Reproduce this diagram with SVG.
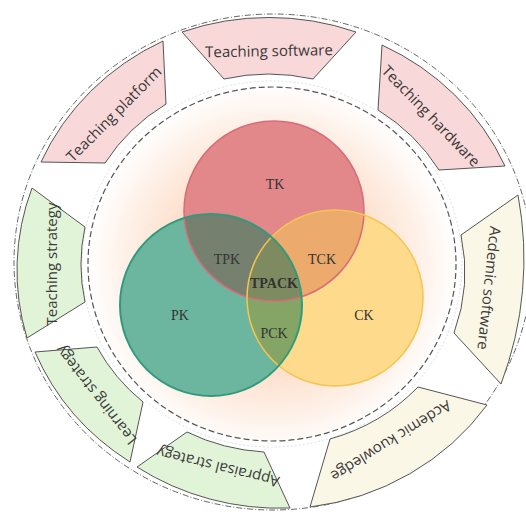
<svg xmlns="http://www.w3.org/2000/svg" width="526" height="512" viewBox="0 0 526 512">
<defs>
<radialGradient id="glow" cx="272" cy="268" r="184" gradientUnits="userSpaceOnUse">
<stop offset="0" stop-color="#fbc6a2"/>
<stop offset="0.5" stop-color="#fddcc6"/>
<stop offset="0.8" stop-color="#fef0e7"/>
<stop offset="1" stop-color="#ffffff"/>
</radialGradient>
<circle id="cT" cx="274" cy="211" r="90"/>
<circle id="cP" cx="211" cy="305" r="91"/>
<circle id="cC" cx="335" cy="298" r="88"/>
<clipPath id="clipT"><use href="#cT"/></clipPath>
<clipPath id="clipP"><use href="#cP"/></clipPath>
</defs>
<style>
.seg{stroke:#555;stroke-width:1}
.pink{fill:#f9d8d9}
.cream{fill:#faf7e7}
.green{fill:#e2f4d8}
.lbl{font-family:"Open Sans","DejaVu Sans",sans-serif;font-size:15px;fill:#3a3a3a;text-anchor:middle}
.v{font-family:"Liberation Serif","Times New Roman",serif;font-size:14px;fill:#333;text-anchor:middle}
</style>
<rect width="526" height="512" fill="#ffffff"/>
<g id="rings">
<ellipse cx="273" cy="262" rx="259" ry="248" fill="none" stroke="#666" stroke-width="1" stroke-dasharray="6 2 1 2"/>
<ellipse cx="272" cy="264" rx="184" ry="177" fill="url(#glow)"/>
<ellipse cx="272" cy="264" rx="190" ry="183" fill="none" stroke="#d6d6d6" stroke-width="0.8" stroke-dasharray="2 2"/>
<ellipse cx="272" cy="264" rx="184" ry="177" fill="none" stroke="#555" stroke-width="1.2" stroke-dasharray="6 3"/>
</g>
<g id="seg-teaching-software">
<path class="seg pink" d="M182,32 A256,244 0 0 1 356,32 L313,79 A195,186 0 0 0 224,79 Z"/>
<text class="lbl" transform="translate(269,51) rotate(-1)" dy="0.35em">Teaching software</text>
</g>
<g id="seg-teaching-hardware">
<path class="seg pink" d="M382,45 A256,244 0 0 1 505,166 L439,170 A195,186 0 0 0 378,110 Z"/>
<text class="lbl" transform="translate(431,116) rotate(46)" dy="0.35em">Teaching hardware</text>
</g>
<g id="seg-academic-software">
<path class="seg cream" d="M518,195 A350,350 0 0 1 501,384 L454,333 A195,186 0 0 0 461,235 Z"/>
<text class="lbl" transform="translate(489,288) rotate(96)" dy="0.35em">Acdemic software</text>
</g>
<g id="seg-academic-knowledge">
<path class="seg cream" d="M487,405 A256,244 0 0 1 310,507 L330,439 A195,186 0 0 0 418,387 Z"/>
<text class="lbl" transform="translate(391,441) rotate(148)" dy="0.35em">Acdemic kuowledge</text>
</g>
<g id="seg-appraisal-strategy">
<path class="seg green" d="M290,508 A256,244 0 0 1 137,467 L187,432 A195,186 0 0 0 264,452 Z"/>
<text class="lbl" transform="translate(218,467) rotate(194)" dy="0.35em">Appraisal strategy</text>
</g>
<g id="seg-learning-strategy">
<path class="seg green" d="M130,462 A256,244 0 0 1 35,352 L97,347 A195,186 0 0 0 143,402 Z"/>
<text class="lbl" transform="translate(96,395) rotate(232)" dy="0.35em">Learning strategy</text>
</g>
<g id="seg-teaching-strategy">
<path class="seg green" d="M27,338 A256,244 0 0 1 32,188 L85,227 A195,186 0 0 0 85,302 Z"/>
<text class="lbl" transform="translate(52,264) rotate(270)" dy="0.35em">Teaching strategy</text>
</g>
<g id="seg-teaching-platform">
<path class="seg pink" d="M41,162 A256,244 0 0 1 163,41 L166,104 A195,186 0 0 0 105,163 Z"/>
<text class="lbl" transform="translate(114,114) rotate(-45)" dy="0.35em">Teaching platform</text>
</g>
<g id="venn">
<use href="#cT" fill="#e2888a"/>
<use href="#cP" fill="#6cb59e"/>
<use href="#cC" fill="#fedb8c"/>
<use href="#cP" fill="#76806e" clip-path="url(#clipT)"/>
<use href="#cC" fill="#ecaa6c" clip-path="url(#clipT)"/>
<use href="#cC" fill="#84a566" clip-path="url(#clipP)"/>
<g clip-path="url(#clipP)"><use href="#cC" fill="#7e8a60" clip-path="url(#clipT)"/></g>
<use href="#cT" fill="none" stroke="#d96b78" stroke-width="1.5"/>
<use href="#cC" fill="none" stroke="#f5c452" stroke-width="1.5"/>
<use href="#cP" fill="none" stroke="#2f9b7c" stroke-width="2"/>
</g>
<g id="venn-labels">
<text class="v" x="275" y="189">TK</text>
<text class="v" x="227" y="264">TPK</text>
<text class="v" x="322" y="264">TCK</text>
<text class="v" x="274" y="288" font-weight="bold">TPACK</text>
<text class="v" x="180" y="320">PK</text>
<text class="v" x="274" y="338">PCK</text>
<text class="v" x="364" y="320">CK</text>
</g>
</svg>
